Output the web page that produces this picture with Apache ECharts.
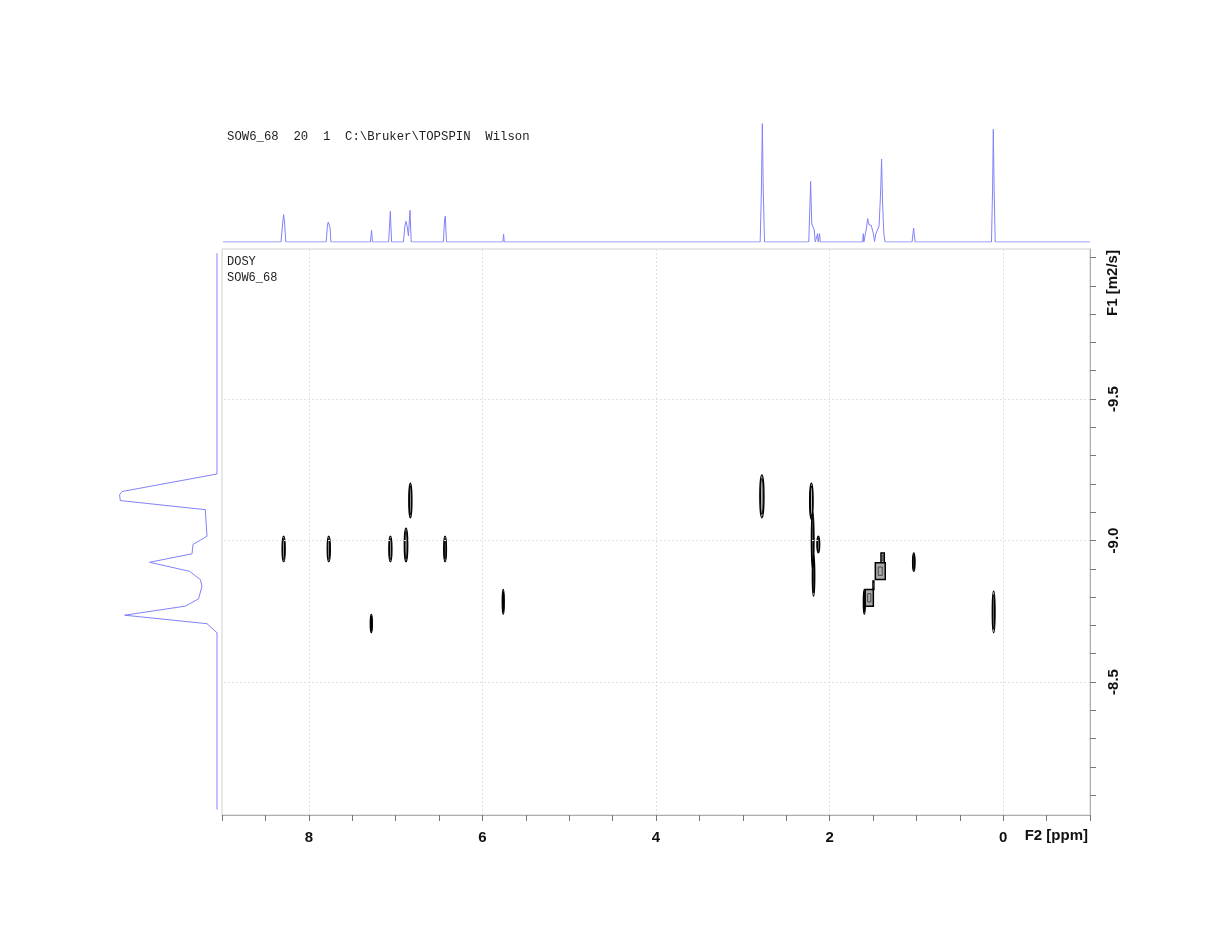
<!DOCTYPE html>
<html><head><meta charset="utf-8">
<script src="https://cdn.jsdelivr.net/npm/echarts@6/dist/echarts.min.js"></script>
<style>html,body{margin:0;padding:0;background:#fff}#c{width:1221px;height:951px}</style>
</head><body><div id="c"></div>
<script>
// ---- text ----
const headerText = 'SOW6_68  20  1  C:\\Bruker\\TOPSPIN  Wilson';
const plotLines = ['DOSY', 'SOW6_68'];
const xAxisTitle = 'F2 [ppm]';
const yAxisTitle = 'F1 [m2/s]';

// ---- ticks / labels ----
const xTicks = [-1, -0.5, 0, 0.5, 1, 1.5, 2, 2.5, 3, 3.5, 4, 4.5, 5, 5.5, 6, 6.5, 7, 7.5, 8, 8.5, 9];
const xLabels = [8, 6, 4, 2, 0];
const yTicks = [-10.0, -9.9, -9.8, -9.7, -9.6, -9.5, -9.4, -9.3, -9.2, -9.1, -9.0, -8.9, -8.8, -8.7, -8.6, -8.5, -8.4, -8.3, -8.2, -8.1];
const yLabels = [-9.5, -9.0, -8.5];
const xGridLines = [8, 6, 4, 2, 0];
const yGridLines = [-9.5, -9.0, -8.5];

// ---- top 1D projection: [ppm, intensity] ----
const topSpectrum = [
  [8.99, 0],
  [8.32, 0], [8.30, 20], [8.29, 27.4], [8.28, 20], [8.265, 0],
  [7.80, 0], [7.785, 17], [7.775, 20], [7.765, 19], [7.755, 14], [7.745, 0],
  [7.29, 0], [7.277, 11.7], [7.266, 0],
  [7.08, 0], [7.061, 30.7], [7.046, 0],
  [6.91, 0], [6.893, 16], [6.88, 20.7], [6.866, 15], [6.852, 6], [6.834, 31.7], [6.82, 0],
  [6.45, 0], [6.436, 22], [6.427, 26], [6.414, 0],
  [5.765, 0], [5.756, 8], [5.748, 0],
  [2.80, 0], [2.786, 50], [2.775, 118.4], [2.764, 50], [2.75, 0],
  [2.24, 0], [2.222, 50], [2.219, 60.7], [2.205, 18], [2.19, 18.4], [2.177, 12], [2.165, 0],
  [2.145, 0], [2.138, 8.4], [2.131, 0], [2.121, 0], [2.115, 8.4], [2.108, 0],
  [1.62, 0], [1.612, 8.4], [1.605, 0], [1.59, 0], [1.575, 14], [1.562, 23.4], [1.545, 17],
  [1.52, 16.7], [1.495, 8], [1.482, 0.5], [1.468, 8], [1.454, 10], [1.43, 16], [1.412, 50],
  [1.401, 83], [1.39, 40], [1.375, 8], [1.36, 0],
  [1.05, 0], [1.032, 14], [1.015, 0],
  [0.135, 0], [0.122, 55], [0.114, 112.7], [0.105, 55], [0.092, 0],
  [-1.0, 0]
];

// ---- left projection: [intensity, logD] ----
const leftProjection = [
  [0, -10.015], [0, -9.235], [95, -9.173], [97.4, -9.162], [96.7, -9.141], [11.7, -9.109],
  [10, -9.015], [24, -8.986], [25, -8.953], [67.4, -8.923], [27.4, -8.891], [16.7, -8.862],
  [15, -8.839], [18.4, -8.794], [31.7, -8.768], [92.4, -8.736], [10, -8.706], [0, -8.674],
  [0, -8.049]
];

// ---- 2D cross peaks: [ppm, logD top, logD bottom, half width ppm] ----
const crossPeaks = [
  [8.29, -9.015, -8.925, 0.018],
  [7.77, -9.015, -8.925, 0.018],
  [7.06, -9.015, -8.925, 0.018],
  [6.88, -9.044, -8.925, 0.02],
  [6.83, -9.203, -9.080, 0.018],
  [6.43, -9.015, -8.925, 0.016],
  [7.28, -8.739, -8.674, 0.012],
  [5.76, -8.827, -8.739, 0.01],
  [2.78, -9.232, -9.080, 0.024],
  [2.21, -9.203, -9.075, 0.02],
  [2.195, -9.10, -8.90, 0.015],
  [2.185, -8.95, -8.803, 0.014],
  [2.13, -9.015, -8.956, 0.016],
  [1.60, -8.827, -8.739, 0.008],
  [1.03, -8.956, -8.891, 0.014],
  [0.11, -8.821, -8.674, 0.016]
];
// ---- box-shaped contour groups: [ppm left, logD top, ppm right, logD bottom] ----
const crossBoxes = [
  [1.408, -8.956, 1.37, -8.921],
  [1.473, -8.921, 1.359, -8.862],
  [1.59, -8.827, 1.496, -8.768],
  [1.50, -8.857, 1.49, -8.827]
];

const BLUE = '#8282fa';
const chart = echarts.init(document.getElementById('c'), null, {renderer: 'canvas'});

function renderPeak(params, api) {
  const p = api.value(0), t = api.value(1), b = api.value(2), w = api.value(3);
  const top = api.coord([p, t]), bot = api.coord([p, b]), side = api.coord([p - w, t]);
  const cx = top[0], cy = (top[1] + bot[1]) / 2;
  const ry = Math.abs(bot[1] - top[1]) / 2;
  const rx = Math.max(1.0, Math.abs(side[0] - cx));
  const levels = [1, 0.6];
  return {
    type: 'group',
    children: levels.map(f => ({
      type: 'ellipse',
      shape: {cx: cx, cy: cy, rx: rx * f, ry: ry * (0.55 + 0.45 * f)},
      style: {fill: 'none', stroke: '#000', lineWidth: 1.3}
    }))
  };
}
function renderBox(params, api) {
  const a = api.coord([api.value(0), api.value(1)]);
  const c = api.coord([api.value(2), api.value(3)]);
  const x = Math.min(a[0], c[0]), y = Math.min(a[1], c[1]);
  const w = Math.abs(c[0] - a[0]), h = Math.abs(c[1] - a[1]);
  return {
    type: 'group',
    children: [
      {type: 'rect', shape: {x: x, y: y, width: w, height: h}, style: {fill: '#aaa', stroke: '#000', lineWidth: 1.5}},
      {type: 'rect', shape: {x: x + w * 0.3, y: y + h * 0.25, width: w * 0.4, height: h * 0.5}, style: {fill: 'none', stroke: '#333', lineWidth: 0.8}}
    ]
  };
}

const option = {
  backgroundColor: '#fff',
  animation: false,
  grid: [
    {left: 222, top: 249, width: 868, height: 566, show: true, borderColor: '#cfcfcf', borderWidth: 1, backgroundColor: 'transparent'},
    {left: 222, top: 118, width: 868, height: 124},
    {left: 112, top: 249, width: 105, height: 566}
  ],
  xAxis: [
    {
      gridIndex: 0, type: 'value', min: -1, max: 9, inverse: true, position: 'bottom',
      axisLine: {show: true, onZero: false, lineStyle: {color: '#b0b0b0', width: 1}},
      axisTick: {show: true, customValues: xTicks, length: 6, lineStyle: {color: '#777'}},
      axisLabel: {show: true, customValues: xLabels, margin: 15, color: '#111', fontWeight: 'bold', fontSize: 15, fontFamily: 'Liberation Sans, Arial, sans-serif'},
      splitLine: {show: false}
    },
    {gridIndex: 1, type: 'value', min: -1, max: 9, inverse: true, show: false},
    {gridIndex: 2, type: 'value', min: 0, max: 105, inverse: true, show: false}
  ],
  yAxis: [
    {
      gridIndex: 0, type: 'value', min: -10.03, max: -8.03, inverse: true, position: 'right',
      axisLine: {show: true, onZero: false, lineStyle: {color: '#b0b0b0', width: 1}},
      axisTick: {show: true, customValues: yTicks, length: 6, lineStyle: {color: '#777'}},
      axisLabel: {show: true, customValues: yLabels, rotate: 90, margin: 16, color: '#111', fontWeight: 'bold', fontSize: 15,
        fontFamily: 'Liberation Sans, Arial, sans-serif', formatter: v => Number(v).toFixed(1)},
      splitLine: {show: false}
    },
    {gridIndex: 1, type: 'value', min: 0, max: 124, show: false},
    {gridIndex: 2, type: 'value', min: -10.03, max: -8.03, inverse: true, show: false}
  ],
  series: [
    {
      type: 'line', xAxisIndex: 0, yAxisIndex: 0, data: [], silent: true,
      markLine: {
        silent: true, symbol: ['none', 'none'], label: {show: false},
        lineStyle: {color: '#e0e0e0', type: [2, 2], width: 1},
        data: xGridLines.map(v => ({xAxis: v})).concat(yGridLines.map(v => ({yAxis: v})))
      }
    },
    {
      type: 'line', xAxisIndex: 1, yAxisIndex: 1, data: topSpectrum, showSymbol: false, symbol: 'none',
      lineStyle: {color: BLUE, width: 1}, silent: true
    },
    {
      type: 'line', xAxisIndex: 2, yAxisIndex: 2, data: leftProjection, showSymbol: false, symbol: 'none',
      lineStyle: {color: BLUE, width: 1}, silent: true
    },
    {
      type: 'custom', xAxisIndex: 0, yAxisIndex: 0, data: crossPeaks, renderItem: renderPeak, silent: true,
      encode: {x: 0, y: 1}
    },
    {
      type: 'custom', xAxisIndex: 0, yAxisIndex: 0, data: crossBoxes, renderItem: renderBox, silent: true,
      encode: {x: [0, 2], y: [1, 3]}
    }
  ],
  graphic: [
    {type: 'text', left: 227, top: 131, style: {text: headerText, font: '12.3px "Liberation Mono", monospace', fill: '#222'}},
    {type: 'text', left: 227, top: 256, style: {text: plotLines[0], font: '12px "Liberation Mono", monospace', fill: '#222'}},
    {type: 'text', left: 227, top: 272, style: {text: plotLines[1], font: '12px "Liberation Mono", monospace', fill: '#222'}},
    {type: 'text', x: 1088, y: 836, style: {text: xAxisTitle, align: 'right', verticalAlign: 'middle', font: 'bold 15px "Liberation Sans", Arial, sans-serif', fill: '#111'}},
    {type: 'text', x: 1113, y: 283, rotation: Math.PI / 2, style: {text: yAxisTitle, align: 'center', verticalAlign: 'middle', font: 'bold 15px "Liberation Sans", Arial, sans-serif', fill: '#111'}}
  ]
};
chart.setOption(option);
</script>
</body></html>
